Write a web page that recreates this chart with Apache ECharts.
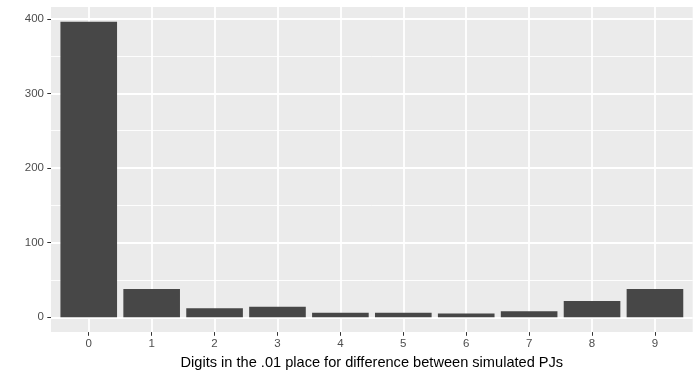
<!DOCTYPE html>
<html>
<head>
<meta charset="utf-8">
<script src="https://cdn.jsdelivr.net/npm/echarts@6/dist/echarts.min.js"></script>
<style>html,body{margin:0;padding:0;background:#fff;}#c{width:700px;height:375px;}</style>
</head>
<body>
<div id="c"></div>
<script>
const categories = [0, 1, 2, 3, 4, 5, 6, 7, 8, 9];
const counts = [396, 38, 12, 14, 6, 6, 5, 8, 22, 38];
const yTicks = [0, 100, 200, 300, 400];
const yMinor = [50, 150, 250, 350];
const xTitle = 'Digits in the .01 place for difference between simulated PJs';

const chart = echarts.init(document.getElementById('c'), null, {renderer: 'canvas'});
const font = 'Liberation Sans, Arial, Helvetica, sans-serif';
const yMax = Math.max(...counts);
const yPad = yMax * 0.05;
chart.setOption({
  animation: false,
  backgroundColor: '#ffffff',
  grid: {left: 51, top: 7, right: 7.3, bottom: 42.3, show: true, backgroundColor: '#EBEBEB', borderWidth: 0},
  xAxis: {
    type: 'value', min: -0.6, max: categories.length - 0.4,
    name: xTitle, nameLocation: 'middle', nameGap: 19,
    nameTextStyle: {fontFamily: font, fontSize: 14.6, color: '#000'},
    axisLine: {show: false, onZero: false},
    axisTick: {show: true, customValues: categories, length: 3.7, lineStyle: {color: '#333', width: 1}},
    axisLabel: {customValues: categories, fontFamily: font, fontSize: 11.5, color: '#4D4D4D', margin: 6},
    splitLine: {show: true, lineStyle: {color: '#ffffff', width: 1.8}}
  },
  yAxis: [{
    type: 'value', min: -yPad, max: yMax + yPad,
    axisLine: {show: false, onZero: false},
    axisTick: {show: true, customValues: yTicks, length: 3.7, lineStyle: {color: '#333', width: 1}},
    axisLabel: {customValues: yTicks, fontFamily: font, fontSize: 11.5, color: '#4D4D4D', margin: 7},
    splitLine: {show: true, lineStyle: {color: '#ffffff', width: 1.8}}
  }, {
    type: 'value', min: -yPad, max: yMax + yPad, position: 'left',
    axisLine: {show: false, onZero: false},
    axisTick: {show: false, customValues: yMinor},
    axisLabel: {show: false, customValues: yMinor},
    splitLine: {show: true, lineStyle: {color: '#ffffff', width: 0.9}}
  }],
  series: [{
    type: 'bar', yAxisIndex: 0,
    data: categories.map((c, i) => [c, counts[i]]),
    barWidth: '90%',
    itemStyle: {color: '#474747'},
    z: 5
  }]
});
</script>
</body>
</html>
